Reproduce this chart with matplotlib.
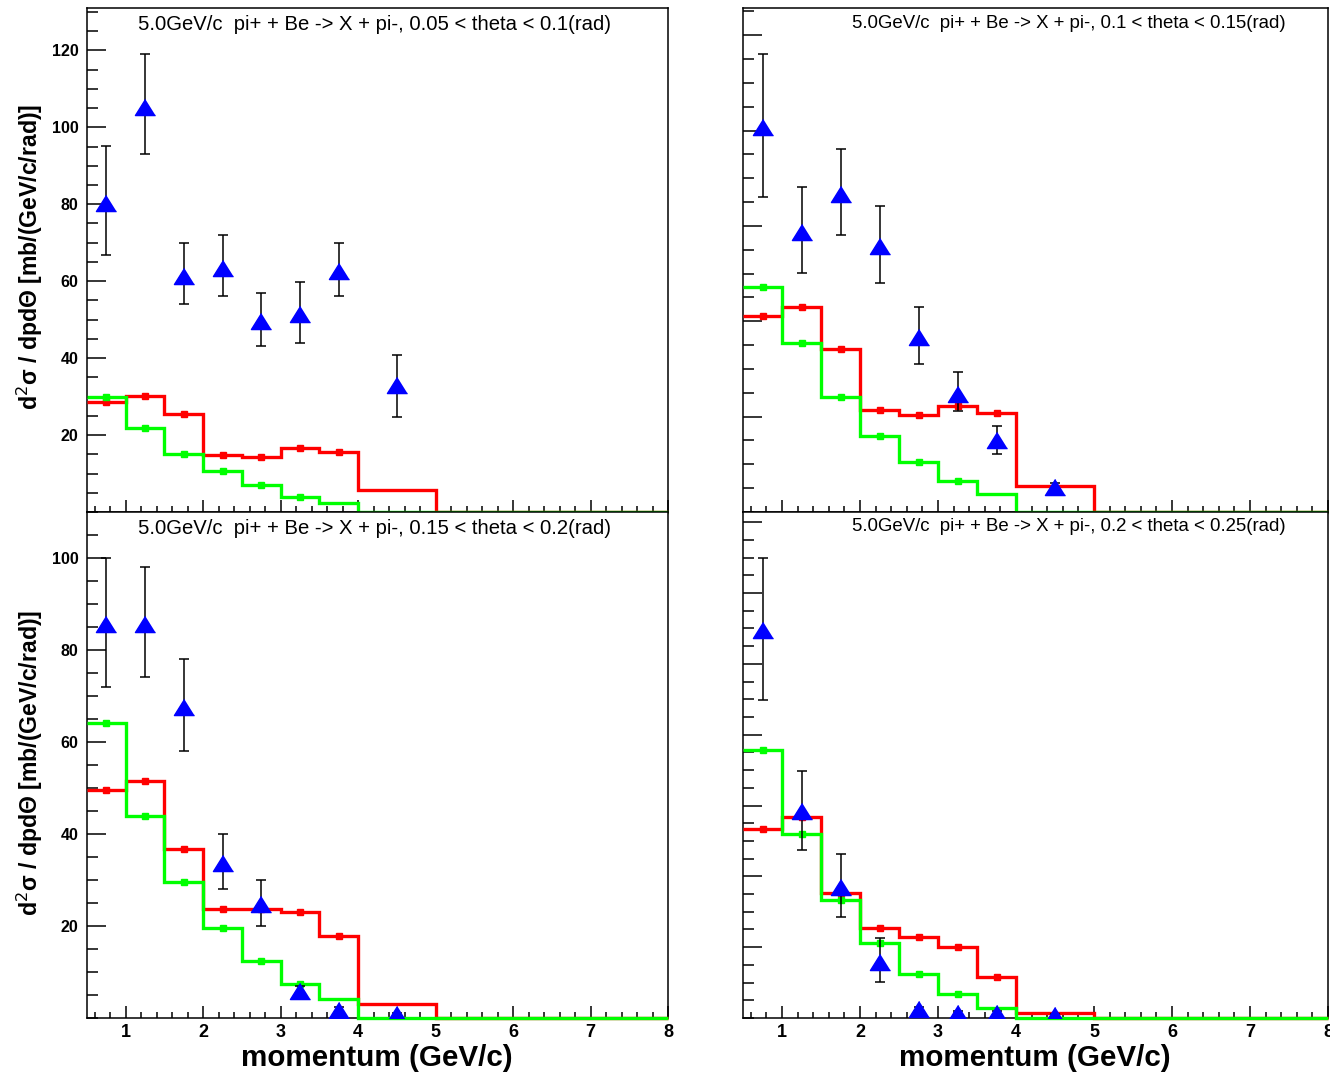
import numpy as np
import matplotlib.pyplot as plt
from matplotlib.ticker import MultipleLocator, FixedLocator

plt.rcParams['font.family'] = ['Liberation Sans', 'DejaVu Sans']

# bin edges of the MC histograms and momentum of the data points
edges = [0.5, 1, 1.5, 2, 2.5, 3, 3.5, 4, 5, 8]
p_data = [0.75, 1.25, 1.75, 2.25, 2.75, 3.25, 3.75, 4.5]

titles = ['5.0GeV/c  pi+ + Be -> X + pi-, 0.05 < theta < 0.1(rad)',
          '5.0GeV/c  pi+ + Be -> X + pi-, 0.1 < theta < 0.15(rad)',
          '5.0GeV/c  pi+ + Be -> X + pi-, 0.15 < theta < 0.2(rad)',
          '5.0GeV/c  pi+ + Be -> X + pi-, 0.2 < theta < 0.25(rad)']

# 0.05 < theta < 0.1
data_1 = [80.2, 105.2, 61.3, 63.5, 49.7, 51.4, 62.6, 32.9]
errhi_1 = [14.9, 13.9, 8.6, 8.6, 7.3, 8.5, 7.3, 7.9]
errlo_1 = [13.3, 12.2, 7.3, 7.4, 6.6, 7.5, 6.5, 8.1]
red_1 = [28.5, 30.2, 25.5, 14.9, 14.4, 16.6, 15.6, 5.8, 0]
green_1 = [29.8, 21.9, 15.0, 10.6, 6.9, 4.0, 2.4, 0, 0]

# 0.1 < theta < 0.15
data_2 = [80.8, 58.8, 66.8, 55.7, 36.7, 24.7, 15.0, 5.2]
errhi_2 = [15.3, 9.4, 9.4, 8.4, 6.4, 4.6, 3.1, 0.8]
errlo_2 = [14.7, 8.7, 8.6, 7.7, 5.7, 3.5, 2.9, 0.8]
red_2 = [41.2, 43.1, 34.1, 21.4, 20.3, 22.3, 20.8, 5.5, 0]
green_2 = [47.2, 35.4, 24.1, 15.9, 10.4, 6.4, 3.7, 0, 0]

# 0.15 < theta < 0.2
data_3 = [85.6, 85.6, 67.7, 33.8, 24.7, 5.9, 1.8, 0.8]
errhi_3 = [14.4, 12.5, 10.4, 6.2, 5.4, 1.0, 0.5, 0.3]
errlo_3 = [13.6, 11.5, 9.6, 5.8, 4.7, 1.0, 0.5, 0.3]
red_3 = [49.5, 51.6, 36.8, 23.8, 23.6, 23.1, 17.9, 3.0, 0]
green_3 = [64.1, 44.0, 29.6, 19.5, 12.3, 7.5, 4.2, 0, 0]

# 0.2 < theta < 0.25
data_4 = [109.5, 58.4, 36.9, 15.9, 2.5, 1.5, 1.5, 0.8]
errhi_4 = [20.4, 11.4, 9.5, 6.8, 0.5, 0.4, 0.4, 0.2]
errlo_4 = [19.7, 10.9, 8.5, 5.6, 0.5, 0.4, 0.4, 0.2]
red_4 = [53.3, 56.9, 35.2, 25.3, 22.9, 20.0, 11.7, 1.5, 0]
green_4 = [75.8, 51.9, 33.3, 21.3, 12.3, 6.8, 2.7, 0, 0]

panels = [(data_1, errlo_1, errhi_1, red_1, green_1),
          (data_2, errlo_2, errhi_2, red_2, green_2),
          (data_3, errlo_3, errhi_3, red_3, green_3),
          (data_4, errlo_4, errhi_4, red_4, green_4)]

W, H = 1330., 1075.
fig = plt.figure(figsize=(13.3, 10.75), dpi=100)

# axes boxes in pixels: left, top, right, bottom
boxes = [(87, 8, 668, 512), (743, 8, 1328, 512),
         (87, 512, 668, 1018), (743, 512, 1328, 1018)]

tri = [(0, 0.8), (-1, -0.8), (1, -0.8)]
centers = 0.5 * (np.array(edges[:-1]) + np.array(edges[1:]))

for i, (data, elo, ehi, red, green) in enumerate(panels):
    l, t, r, b = boxes[i]
    ax = fig.add_axes([l / W, 1 - b / H, (r - l) / W, (b - t) / H])

    ax.stairs(red, edges, baseline=None, color=(1, 0, 0), lw=2.4, zorder=3, clip_on=False)
    ax.plot(centers[:7], red[:7], ls='none', marker='s', ms=4.5, color=(1, 0, 0), zorder=3)
    ax.stairs(green, edges, baseline=None, color=(0, 1, 0), lw=2.4, zorder=3, clip_on=False)
    ax.plot(centers[:6], green[:6], ls='none', marker='s', ms=4.5, color=(0, 1, 0), zorder=3)

    ax.errorbar(p_data, data, yerr=[elo, ehi], fmt='none', ecolor='black',
                elinewidth=1.1, capsize=3.3, capthick=1.1, zorder=4)
    ax.plot(p_data, data, ls='none', marker=tri, ms=14.5, color=(0, 0, 1), zorder=5)

    ymax = 1.1 * max(np.array(data) + np.array(ehi))
    ax.set_xlim(0.5, 8)
    ax.set_ylim(0, ymax)

    ax.xaxis.set_major_locator(MultipleLocator(1))
    ax.xaxis.set_minor_locator(MultipleLocator(0.2))
    ax.yaxis.set_major_locator(FixedLocator(np.arange(20, ymax, 20)))
    ax.yaxis.set_minor_locator(MultipleLocator(5))
    ax.tick_params(axis='x', which='major', direction='in', length=8.5, width=1.1,
                   labelsize=13, pad=4, top=False)
    ax.tick_params(axis='x', which='minor', direction='in', length=4.3, width=1.1, top=False)
    ax.tick_params(axis='y', which='major', direction='in', length=14, width=1.1,
                   labelsize=11.5, pad=6, right=False)
    ax.tick_params(axis='y', which='minor', direction='in', length=8, width=1.1, right=False)
    for lab in ax.get_xticklabels() + ax.get_yticklabels():
        lab.set_fontweight('bold')
    for s in ax.spines.values():
        s.set_linewidth(1.1)

    if i < 2:
        ax.tick_params(axis='x', labelbottom=False)
    if i % 2 == 1:
        ax.tick_params(axis='y', labelleft=False)

    # panel title
    if i % 2 == 0:
        fig.text(375 / W, 1 - (t + 16) / H, titles[i], ha='center', va='center', fontsize=14.6)
    else:
        fig.text(1069 / W, 1 - (t + 15) / H, titles[i], ha='center', va='center', fontsize=13.4)

ylab = 'd$^{2}$σ / dpdΘ [mb/(GeV/c/rad)]'
fig.text(30 / W, 1 - 257 / H, ylab, rotation=90, ha='center', va='center',
         fontsize=16.6, fontweight='bold')
fig.text(30 / W, 1 - 763 / H, ylab, rotation=90, ha='center', va='center',
         fontsize=16.6, fontweight='bold')
fig.text(377 / W, 1 - 1058 / H, 'momentum (GeV/c)', ha='center', va='center',
         fontsize=21.3, fontweight='bold')
fig.text(1035 / W, 1 - 1058 / H, 'momentum (GeV/c)', ha='center', va='center',
         fontsize=21.3, fontweight='bold')

plt.savefig('out.png', dpi=100)
plt.close('all')
